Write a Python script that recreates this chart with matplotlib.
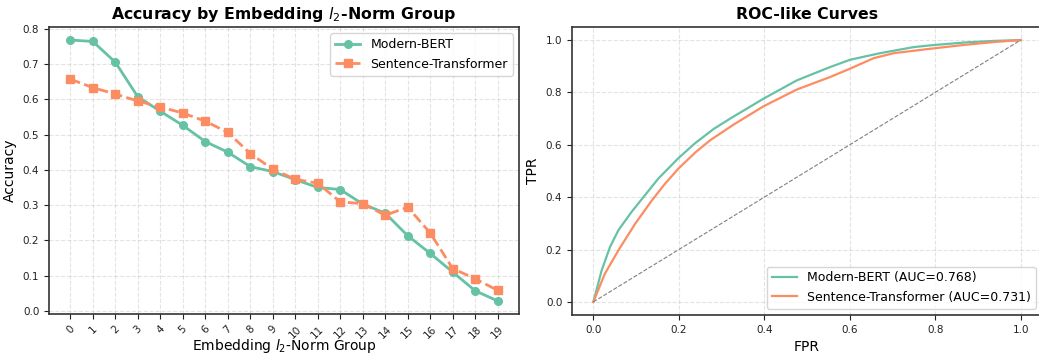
import numpy as np
import matplotlib
matplotlib.use("Agg")
import matplotlib.pyplot as plt

# 数据
groups = list(range(20))
acc_modern = [0.768, 0.764, 0.705, 0.607, 0.566, 0.526, 0.480, 0.450, 0.409, 0.395,
              0.372, 0.350, 0.344, 0.303, 0.277, 0.213, 0.163, 0.110, 0.057, 0.028]
acc_st = [0.657, 0.633, 0.615, 0.595, 0.578, 0.561, 0.538, 0.506, 0.446, 0.402,
          0.373, 0.362, 0.309, 0.304, 0.271, 0.294, 0.221, 0.120, 0.091, 0.058]

fpr_modern = [0.0, 0.0195, 0.039, 0.0586, 0.090, 0.121, 0.152, 0.199, 0.238, 0.281,
              0.320, 0.398, 0.476, 0.554, 0.601, 0.671, 0.749, 0.789, 0.87, 0.94, 1.0]
tpr_modern = [0.0, 0.121, 0.21, 0.274, 0.345, 0.408, 0.471, 0.549, 0.606, 0.660,
              0.700, 0.776, 0.846, 0.897, 0.925, 0.950, 0.973, 0.980, 0.991, 0.997, 1.0]
fpr_st = [0.0, 0.027, 0.0586, 0.098, 0.137, 0.168, 0.199, 0.238, 0.273, 0.328,
          0.398, 0.476, 0.554, 0.601, 0.656, 0.703, 0.789, 0.87, 0.94, 1.0]
tpr_st = [0.0, 0.108, 0.197, 0.299, 0.388, 0.452, 0.509, 0.570, 0.617, 0.677,
          0.747, 0.811, 0.859, 0.891, 0.931, 0.950, 0.967, 0.982, 0.993, 1.0]
auc_modern = 0.768
auc_st = 0.731

c_green = '#66c2a5'
c_orange = '#fc8d62'

fig = plt.figure(figsize=(10.39, 3.56), dpi=100)
ax1 = fig.add_axes([49 / 1039, 1 - 314 / 356, 470 / 1039, 287 / 356])
ax2 = fig.add_axes([572 / 1039, 1 - 315 / 356, 470 / 1039, 288 / 356])

for ax in (ax1, ax2):
    for s in ax.spines.values():
        s.set_color('#333333')
        s.set_linewidth(1.2)
    ax.grid(True, linestyle='--', alpha=0.35, linewidth=0.8)
    ax.tick_params(labelsize=7.5, colors='#222222')

# 左图：准确率
ax1.plot(groups, acc_modern, marker='o', markersize=5.5, linewidth=2, color=c_green,
         label='Modern-BERT')
ax1.plot(groups, acc_st, marker='s', markersize=5.5, linewidth=2, linestyle='--',
         color=c_orange, label='Sentence-Transformer')
ax1.set_xticks(groups)
ax1.set_xticklabels([str(g) for g in groups], rotation=45)
ax1.set_xlim(-0.95, 19.95)
ax1.set_ylabel('Accuracy', fontsize=10)
ax1.set_xlabel('Embedding $l_2$-Norm Group', fontsize=10, labelpad=-2)
ax1.set_title('Accuracy by Embedding $l_2$-Norm Group', fontsize=11.3, fontweight='bold')
ax1.legend(loc='upper right', fontsize=9)

# 右图：ROC曲线
ax2.plot(fpr_modern, tpr_modern, linewidth=1.6, color=c_green,
         label=f'Modern-BERT (AUC={auc_modern:.3f})')
ax2.plot(fpr_st, tpr_st, linewidth=1.6, color=c_orange,
         label=f'Sentence-Transformer (AUC={auc_st:.3f})')
ax2.plot([0, 1], [0, 1], linestyle='--', color='gray', linewidth=0.8)
ax2.set_xlim(-0.05, 1.05)
ax2.set_ylim(-0.05, 1.05)
ax2.set_xlabel('FPR', fontsize=10)
ax2.set_ylabel('TPR', fontsize=10)
ax2.set_title('ROC-like Curves', fontsize=11.3, fontweight='bold')
ax2.legend(loc='lower right', fontsize=9)

fig.savefig('out.png', dpi=100)
